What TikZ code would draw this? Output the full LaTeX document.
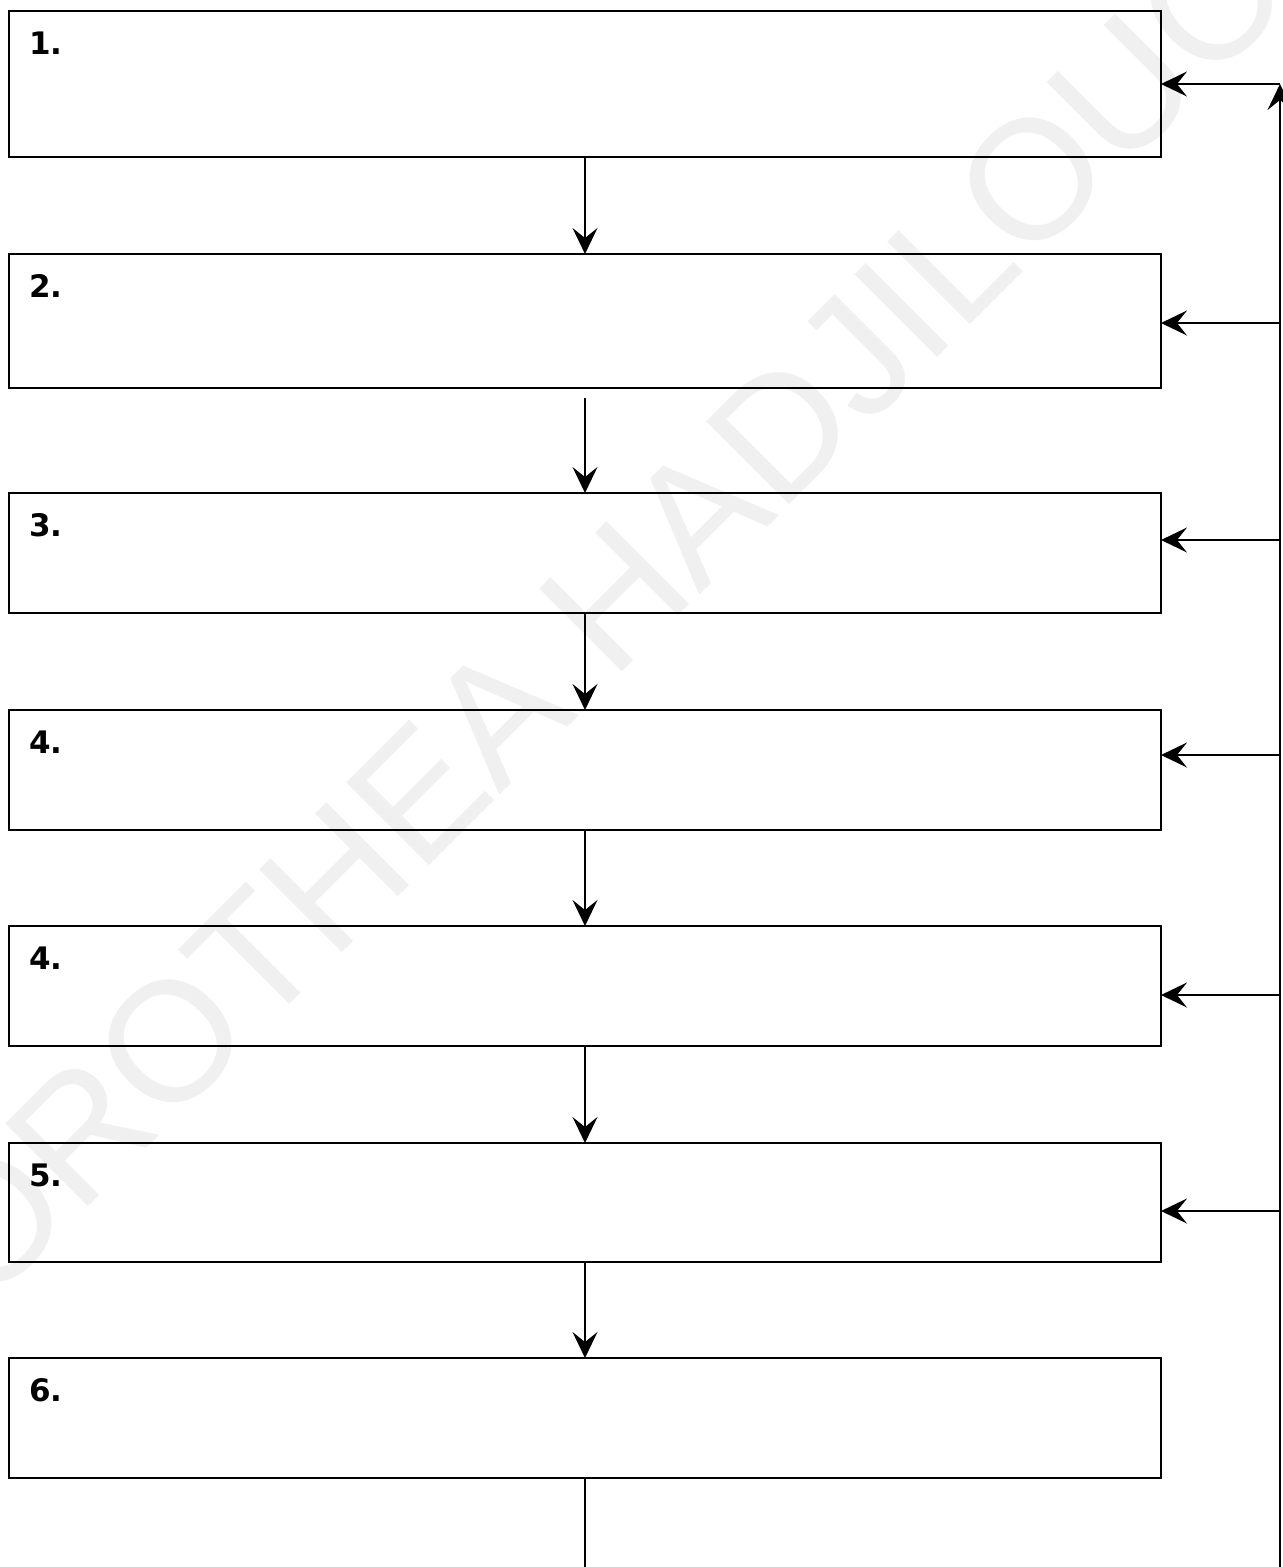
\documentclass[tikz,border=0pt]{standalone}
\usepackage{fontspec}
\usetikzlibrary{arrows.meta}
\newfontfamily\numfont{DejaVu Sans}
\newfontfamily\wmfont{Liberation Sans}
\tikzset{
  stepbox/.style={draw=black, line width=2pt, rectangle, inner sep=0pt, outer sep=0pt, minimum width=1152pt},
  numlabel/.style={font=\numfont\bfseries\fontsize{31}{31}\selectfont, inner sep=0pt, anchor=base west},
  arr/.style={draw=black, line width=2pt, -{Stealth[length=26pt, width=25pt, inset=10pt]}},
  plainline/.style={draw=black, line width=2pt},
  watermark/.style={text=black!6, font=\wmfont\fontsize{170}{170}\selectfont, inner sep=0pt}
}
\begin{document}
\begin{tikzpicture}[x=1pt, y=-1pt]
\useasboundingbox (0,0) rectangle (1283,1567);
\fill[white] (0,0) rectangle (1283,1567);
% watermark
\node[watermark, rotate=45] (wm) at (595,617) {DOROTHEA HADJILOUCA};
% boxes
\node[stepbox, minimum height=146pt, anchor=north west] (b1) at (9,11) {};
\node[stepbox, minimum height=134pt, anchor=north west] (b2) at (9,254) {};
\node[stepbox, minimum height=120pt, anchor=north west] (b3) at (9,493) {};
\node[stepbox, minimum height=120pt, anchor=north west] (b4) at (9,710) {};
\node[stepbox, minimum height=120pt, anchor=north west] (b5) at (9,926) {};
\node[stepbox, minimum height=119pt, anchor=north west] (b6) at (9,1143) {};
\node[stepbox, minimum height=120pt, anchor=north west] (b7) at (9,1358) {};
% labels
\node[numlabel] (n1) at ([xshift=20pt,yshift=-43pt]b1.north west) {1.};
\node[numlabel] (n2) at ([xshift=20pt,yshift=-43pt]b2.north west) {2.};
\node[numlabel] (n3) at ([xshift=20pt,yshift=-43pt]b3.north west) {3.};
\node[numlabel] (n4) at ([xshift=20pt,yshift=-43pt]b4.north west) {4.};
\node[numlabel] (n5) at ([xshift=20pt,yshift=-43pt]b5.north west) {4.};
\node[numlabel] (n6) at ([xshift=20pt,yshift=-43pt]b6.north west) {5.};
\node[numlabel] (n7) at ([xshift=20pt,yshift=-43pt]b7.north west) {6.};
% down arrows
\draw[arr] (b1.south) -- (b2.north);
\draw[arr] ([yshift=-10pt]b2.south) -- (b3.north);
\draw[arr] (b3.south) -- (b4.north);
\draw[arr] (b4.south) -- (b5.north);
\draw[arr] (b5.south) -- (b6.north);
\draw[arr] (b6.south) -- (b7.north);
\coordinate (end7) at (585,1567);
\draw[plainline] (b7.south) -- (end7);
% feedback bus
\coordinate (busbottom) at (1280,1567);
\coordinate (r1) at (1280,84);
\coordinate (r2) at (1280,323);
\coordinate (r3) at (1280,540);
\coordinate (r4) at (1280,755);
\coordinate (r5) at (1280,995);
\coordinate (r6) at (1280,1211);
\draw[arr] (busbottom) -- (r1);
\draw[arr] (r1) -- (r1 -| b1.east);
\draw[arr] (r2) -- (r2 -| b2.east);
\draw[arr] (r3) -- (r3 -| b3.east);
\draw[arr] (r4) -- (r4 -| b4.east);
\draw[arr] (r5) -- (r5 -| b5.east);
\draw[arr] (r6) -- (r6 -| b6.east);
\end{tikzpicture}
\end{document}
